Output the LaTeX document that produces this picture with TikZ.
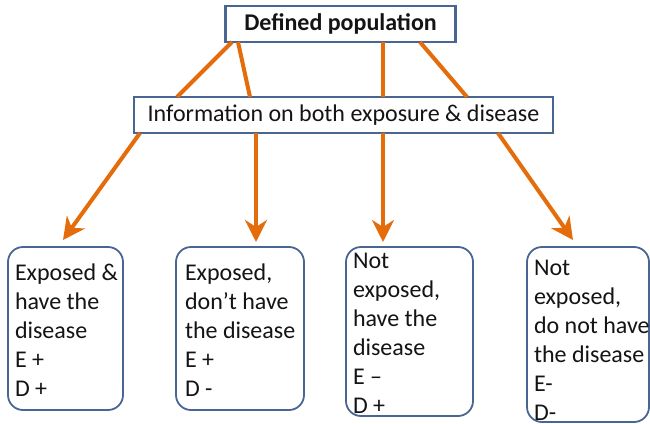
\documentclass[tikz,border=0pt]{standalone}
\usepackage{fontspec}
\setmainfont{Carlito}
\usetikzlibrary{arrows.meta}
\definecolor{boxblue}{RGB}{72,102,145}
\definecolor{arrorange}{RGB}{228,108,10}
\definecolor{txt}{RGB}{20,20,20}
\begin{document}
\begin{tikzpicture}[x=1pt,y=-1pt,
  every node/.style={inner sep=0pt, outer sep=0pt, text=txt},
  headbox/.style={draw=boxblue, line width=2.2pt, fill=white, minimum height=36pt, font=\fontsize{24}{29}\selectfont},
  leafbox/.style={draw=boxblue, line width=1.8pt, rounded corners=15pt},
  leaftext/.style={anchor=base west, align=left, font=\fontsize{24}{29}\selectfont},
  link/.style={draw=arrorange, line width=4pt},
  arrowlink/.style={link, -{Stealth[length=22pt,width=22pt,inset=7pt]}}
]
\fill[white] (0,0) rectangle (650,423);
\useasboundingbox (0,0) rectangle (650,423);

\node[headbox, minimum width=230pt, font=\fontsize{24}{29}\selectfont\bfseries] (top) at (340.5,24) {Defined population};
\node[headbox, minimum width=419pt] (mid) at (343.5,115) {Information on both exposure \& disease};

\node[leafbox, minimum width=115pt, minimum height=163pt] (b1) at (65.5,328.5) {};
\node[leafbox, minimum width=128pt, minimum height=163pt] (b2) at (240,328.5) {};
\node[leafbox, minimum width=127pt, minimum height=169pt] (b3) at (409.5,331.5) {};
\node[leafbox, minimum width=122pt, minimum height=175pt] (b4) at (588,334.5) {};

\node[leaftext] (t1) at (15,396) {Exposed \&\\have the\\disease\\E +\\D +};
\node[leaftext] (t2) at (185,396) {Exposed,\\don’t have\\the disease\\E +\\D -};
\node[leaftext] (t3) at (353,413) {Not\\exposed,\\have the\\disease\\E –\\D +};
\node[leaftext] (t4) at (534,420) {Not\\exposed,\\do not have\\the disease\\E-\\D-};

\draw[link] ([xshift=6.5pt]top.south west) -- ([xshift=43pt]mid.north west);
\draw[link] ([xshift=12.5pt]top.south west) -- ([xshift=116pt]mid.north west);
\draw[link] ([xshift=157.5pt]top.south west) -- ([xshift=249pt]mid.north west);
\draw[link] ([xshift=194.5pt]top.south west) -- ([xshift=333pt]mid.north west);

\draw[arrowlink] ([xshift=6pt]mid.south west) -- ([xshift=55pt,yshift=7pt]b1.north west);
\draw[arrowlink] ([xshift=122pt]mid.south west) -- ([xshift=80pt,yshift=5pt]b2.north west);
\draw[arrowlink] ([xshift=249pt]mid.south west) -- ([xshift=37pt,yshift=5pt]b3.north west);
\draw[arrowlink] ([xshift=364pt]mid.south west) -- ([xshift=46pt,yshift=7pt]b4.north west);
\end{tikzpicture}
\end{document}
